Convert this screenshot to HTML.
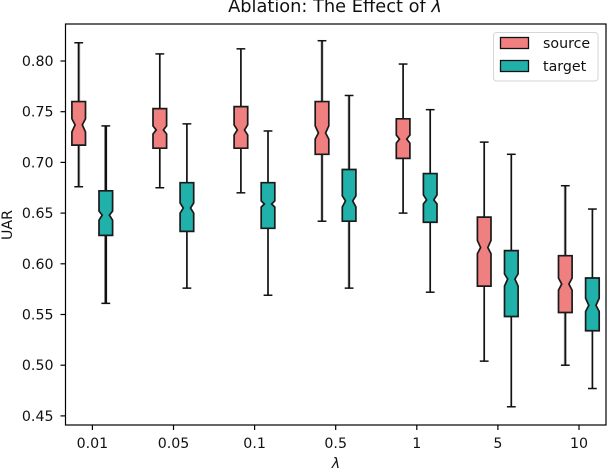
<!DOCTYPE html>
<html>
<head>
<meta charset="utf-8">
<style>
html,body{margin:0;padding:0;background:#fff;}
svg{display:block;}
text{font-family:"DejaVu Sans","Liberation Sans",sans-serif;fill:#111;}
</style>
</head>
<body>
<svg id="chart" width="608" height="470" viewBox="0 0 608 470" xmlns="http://www.w3.org/2000/svg">
<text x="335" y="12" font-size="17.8" text-anchor="middle">Ablation: The Effect of <tspan font-style="italic">λ</tspan></text>
<text transform="translate(12,225) rotate(-90)" font-size="14.2" text-anchor="middle">UAR</text>
<text x="336" y="468" font-size="14.2" font-style="italic" text-anchor="middle">λ</text>
<g id="marks"></g>
<g id="axes"></g>
<rect x="65.5" y="24" width="540.5" height="401" fill="none" stroke="#000" stroke-width="1.2"></rect>
<g>
<rect x="493.5" y="32.5" width="104.5" height="48.5" rx="3" fill="#fff" fill-opacity="0.8" stroke="#d6d6d6" stroke-width="1"></rect>
<rect x="500.5" y="37.5" width="28" height="11" fill="#F08080" stroke="#111" stroke-width="1.3"></rect>
<text x="543" y="48" font-size="14.2">source</text>
<rect x="500.5" y="60.5" width="28" height="11" fill="#20B2AA" stroke="#111" stroke-width="1.3"></rect>
<text x="543" y="71" font-size="14.2">target</text>
</g>
</svg>
<script>
const categories = ['0.01','0.05','0.1','0.5','1','5','10'];
const yTickLabels = ['0.45','0.50','0.55','0.60','0.65','0.70','0.75','0.80'];
const sourceWhiskerHigh = [0.818,0.807,0.812,0.820,0.797,0.720,0.677];
const sourceQ3 = [0.760,0.753,0.755,0.760,0.743,0.646,0.608];
const sourceNotchHigh = [0.743,0.736,0.737,0.736,0.727,0.623,0.586];
const sourceMedian = [0.737,0.732,0.732,0.729,0.723,0.616,0.580];
const sourceNotchLow = [0.730,0.728,0.727,0.723,0.719,0.610,0.574];
const sourceQ1 = [0.717,0.714,0.714,0.708,0.704,0.578,0.552];
const sourceWhiskerLow = [0.676,0.675,0.670,0.642,0.650,0.504,0.500];
const targetWhiskerHigh = [0.736,0.738,0.731,0.766,0.752,0.708,0.654];
const targetQ3 = [0.672,0.680,0.680,0.693,0.689,0.613,0.586];
const targetNotchHigh = [0.652,0.660,0.662,0.667,0.668,0.590,0.566];
const targetMedian = [0.648,0.655,0.659,0.662,0.663,0.585,0.559];
const targetNotchLow = [0.643,0.650,0.656,0.656,0.659,0.578,0.553];
const targetQ1 = [0.628,0.632,0.635,0.642,0.641,0.548,0.534];
const targetWhiskerLow = [0.561,0.576,0.569,0.576,0.572,0.459,0.477];

const SVGNS = 'http://www.w3.org/2000/svg';
const xScale = i => 92.4 + i * 81.1;
const yScale = v => 61 + (0.80 - v) * 1014;
const marks = document.getElementById('marks');
const axes = document.getElementById('axes');
const hazyBoxes = ['source-0.01', 'source-0.5', 'target-0.5', 'source-10'];

function makeLine(parent, x1, y1, x2, y2, width, color) {
  const l = document.createElementNS(SVGNS, 'line');
  l.setAttribute('x1', x1);
  l.setAttribute('y1', y1);
  l.setAttribute('x2', x2);
  l.setAttribute('y2', y2);
  l.setAttribute('stroke', color);
  l.setAttribute('stroke-width', width);
  parent.appendChild(l);
  return l;
}

function drawBoxes(name, offset, fill, hi, q3, nh, med, nl, q1, lo) {
  categories.forEach((c, i) => {
    const cx = xScale(i) + offset;
    const halfBox = 6.8;
    const halfWaist = 3.6;
    const capHalf = 4.4;
    const key = name + '-' + c;
    const whiskerWidth = key === 'target-0.01' ? 2.6 : 1.7;
    const g = document.createElementNS(SVGNS, 'g');
    
    

    if (hazyBoxes.includes(key)) {
      const h = makeLine(g, cx, yScale(hi[i]), cx, yScale(lo[i]), 3.4, '#cfcfcf');
      
      
    }

    const wu = makeLine(g, cx, yScale(hi[i]), cx, yScale(q3[i]), whiskerWidth, '#111');
    
    
    const wl = makeLine(g, cx, yScale(q1[i]), cx, yScale(lo[i]), whiskerWidth, '#111');
    
    
    const cu = makeLine(g, cx - capHalf, yScale(hi[i]), cx + capHalf, yScale(hi[i]), 1.5, '#111');
    
    
    const cl = makeLine(g, cx - capHalf, yScale(lo[i]), cx + capHalf, yScale(lo[i]), 1.5, '#111');
    
    

    const pts = [
      [cx - halfBox, yScale(q1[i])],
      [cx - halfBox, yScale(nl[i])],
      [cx - halfWaist, yScale(med[i])],
      [cx - halfBox, yScale(nh[i])],
      [cx - halfBox, yScale(q3[i])],
      [cx + halfBox, yScale(q3[i])],
      [cx + halfBox, yScale(nh[i])],
      [cx + halfWaist, yScale(med[i])],
      [cx + halfBox, yScale(nl[i])],
      [cx + halfBox, yScale(q1[i])]
    ];
    const p = document.createElementNS(SVGNS, 'polygon');
    p.setAttribute('points', pts.map(q => q[0].toFixed(2) + ',' + q[1].toFixed(2)).join(' '));
    p.setAttribute('fill', fill);
    p.setAttribute('stroke', '#1a1a1a');
    p.setAttribute('stroke-width', '1.7');
    
    
    g.appendChild(p);
    marks.appendChild(g);
  });
}

drawBoxes('source', -13.7, '#F08080', sourceWhiskerHigh, sourceQ3, sourceNotchHigh, sourceMedian, sourceNotchLow, sourceQ1, sourceWhiskerLow);
drawBoxes('target', 13.4, '#20B2AA', targetWhiskerHigh, targetQ3, targetNotchHigh, targetMedian, targetNotchLow, targetQ1, targetWhiskerLow);

categories.forEach((c, i) => {
  const t = makeLine(axes, xScale(i), 425, xScale(i), 430, 1.2, '#000');
  
  
  const label = document.createElementNS(SVGNS, 'text');
  label.setAttribute('x', xScale(i));
  label.setAttribute('y', 448);
  label.setAttribute('font-size', '14.2');
  label.setAttribute('text-anchor', 'middle');
  
  
  label.textContent = c;
  axes.appendChild(label);
});

yTickLabels.forEach(s => {
  const v = parseFloat(s);
  const t = makeLine(axes, 60.5, yScale(v), 65.5, yScale(v), 1.2, '#000');
  
  
  const label = document.createElementNS(SVGNS, 'text');
  label.setAttribute('x', 53.5);
  label.setAttribute('y', yScale(v) + 5);
  label.setAttribute('font-size', '14.2');
  label.setAttribute('text-anchor', 'end');
  
  
  label.textContent = s;
  axes.appendChild(label);
});
</script>
</body>
</html>
